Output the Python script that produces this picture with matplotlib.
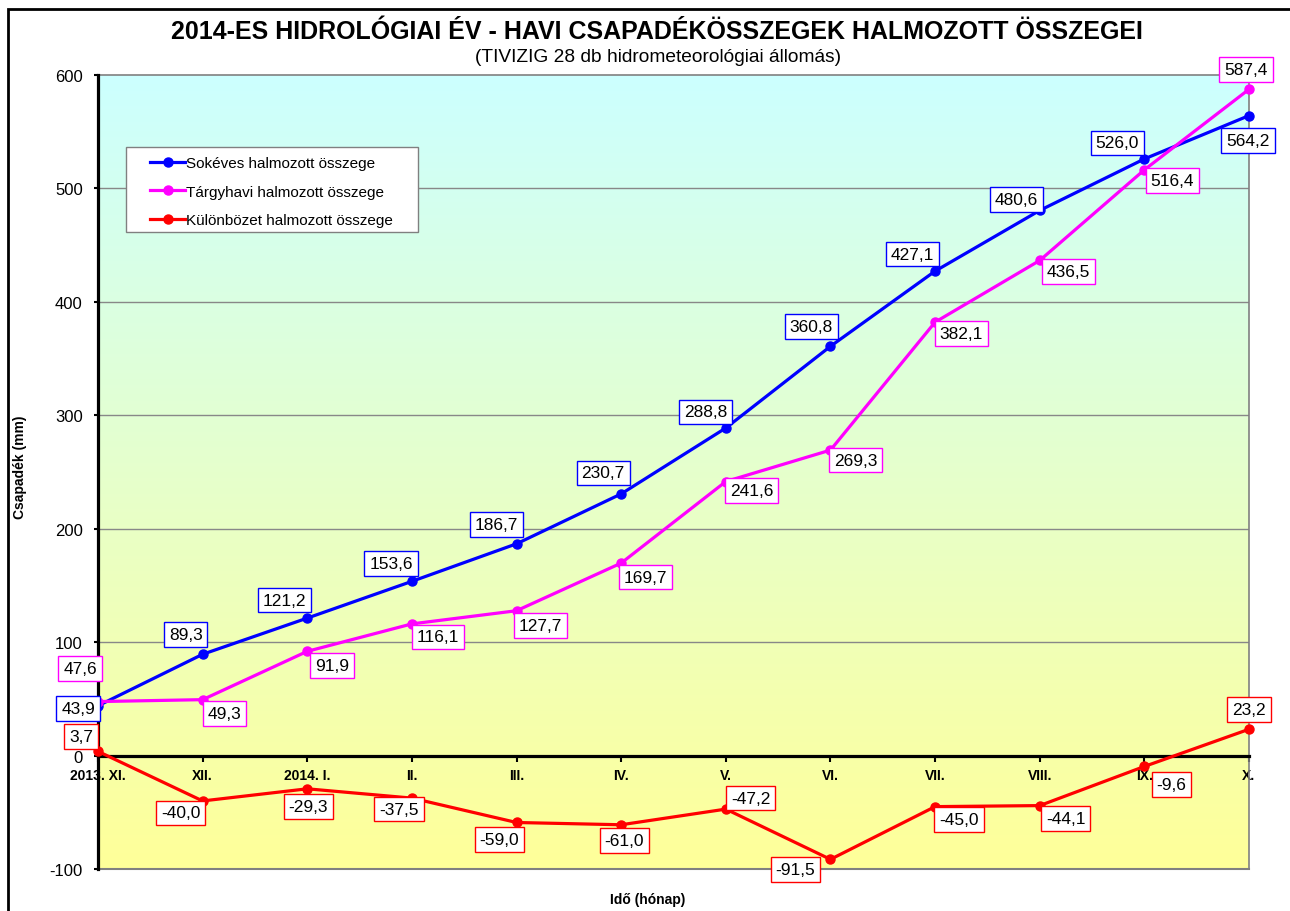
import matplotlib
matplotlib.use("Agg")
import matplotlib.pyplot as plt
import numpy as np
from matplotlib.colors import LinearSegmentedColormap
from matplotlib.patches import Rectangle

plt.rcParams['font.family'] = ['Liberation Sans', 'DejaVu Sans']
plt.rcParams['axes.unicode_minus'] = False

months = ['2013. XI.', 'XII.', '2014. I.', 'II.', 'III.', 'IV.', 'V.', 'VI.',
          'VII.', 'VIII.', 'IX.', 'X.']
sokeves = [43.9, 89.3, 121.2, 153.6, 186.7, 230.7, 288.8, 360.8, 427.1, 480.6, 526.0, 564.2]
targyhavi = [47.6, 49.3, 91.9, 116.1, 127.7, 169.7, 241.6, 269.3, 382.1, 436.5, 516.4, 587.4]
kulonbozet = [3.7, -40.0, -29.3, -37.5, -59.0, -61.0, -47.2, -91.5, -45.0, -44.1, -9.6, 23.2]

# label offsets in pixels (dx, dy downwards)
off_blue = [(-20, 3), (-17, -20), (-23, -18), (-21, -18), (-20, -19), (-18, -21),
            (-20, -16), (-19, -20), (-23, -17), (-23, -11), (-27, -16), (-1, 25)]
off_mag = [(-18, -33), (22, 14), (25, 14), (26, 13), (24, 15), (24, 14),
           (26, 9), (25, 10), (26, 11), (29, 11), (28, 11), (-3, -20)]
off_red = [(-17, -15), (-22, 12), (1, 18), (-13, 11), (-17, 17), (3, 16),
           (25, -11), (-35, 10), (24, 13), (26, 13), (27, 18), (0, -20)]

W, H = 1290, 912
fig = plt.figure(figsize=(W / 100, H / 100), dpi=100)
fig.patches.append(Rectangle((8 / W, -0.1), 1.2, 1 - 10 / H + 0.1, transform=fig.transFigure,
                             fill=False, ec='black', lw=2))

ax = fig.add_axes([98 / W, (H - 870) / H, 1151 / W, 794 / H])
x = np.arange(len(months))

# gradient background
cmap = LinearSegmentedColormap.from_list('bg', ['#FFFF99', '#CCFFFF'])
grad = np.linspace(0, 1, 256).reshape(-1, 1)
ax.imshow(grad, extent=[0, 11, -100, 600], origin='lower', aspect='auto', cmap=cmap, zorder=0)

ax.set_xlim(0, 11)
ax.set_ylim(-100, 600)
for yv in range(100, 600, 100):
    ax.axhline(yv, color='#888888', lw=1, zorder=1)

series = [
    (sokeves, '#0000FF', 'Sokéves halmozott összege', off_blue),
    (targyhavi, '#FF00FF', 'Tárgyhavi halmozott összege', off_mag),
    (kulonbozet, '#FF0000', 'Különbözet halmozott összege', off_red),
]
for vals, col, lab, offs in series:
    ax.plot(x, vals, color=col, lw=2.3, marker='o', ms=6.5, label=lab, clip_on=False, zorder=4)
    for xi, v, (dx, dy) in zip(x, vals, offs):
        ax.annotate(f"{v:.1f}".replace('.', ','), (xi, v), xytext=(dx, -dy),
                    textcoords='offset pixels', ha='center', va='center', fontsize=12.5,
                    bbox=dict(boxstyle='square,pad=0.28', fc='white', ec=col, lw=1),
                    zorder=5, annotation_clip=False)

# spines
ax.spines['bottom'].set_position(('data', 0))
ax.spines['bottom'].set_linewidth(2.3)
ax.spines['left'].set_linewidth(2.3)
ax.spines['left'].set_zorder(3)
ax.spines['top'].set_color('#808080')
ax.spines['right'].set_color('#808080')
ax.spines['top'].set_linewidth(1.2)
ax.spines['right'].set_linewidth(1.2)
ax.plot([0, 11], [-100, -100], color='#808080', lw=1.5, clip_on=False, zorder=3)

ax.set_xticks(x)
ax.set_xticklabels(months, fontsize=10, fontweight='bold')
ax.set_yticks(range(-100, 601, 100))
ax.tick_params(axis='y', direction='out', length=3, width=1.5, labelsize=12, pad=8)
ax.tick_params(axis='x', direction='out', length=4, width=1.5, pad=5)

# legend
fig.patches.append(Rectangle((126 / W, 1 - 233 / H), 292 / W, 85 / H, transform=fig.transFigure,
                             fc='white', ec='#808080', lw=1, zorder=6))
leg = fig.legend(loc='upper left', bbox_to_anchor=(144 / W, 1 - 151 / H), frameon=False,
                 fontsize=11, handlelength=2.3, handletextpad=0.05, labelspacing=0.95,
                 borderaxespad=0)
leg.set_zorder(7)

fig.text(657 / W, 1 - 32 / H, '2014-ES HIDROLÓGIAI ÉV - HAVI CSAPADÉKÖSSZEGEK HALMOZOTT ÖSSZEGEI',
         ha='center', va='center', fontsize=18, fontweight='bold')
fig.text(658 / W, 1 - 58 / H, '(TIVIZIG 28 db hidrometeorológiai állomás)',
         ha='center', va='center', fontsize=13.75)
fig.text(20 / W, 1 - 467 / H, 'Csapadék (mm)', rotation=90, ha='center', va='center',
         fontsize=10, fontweight='bold')
fig.text(648 / W, 1 - 900 / H, 'Idő (hónap)', ha='center', va='center',
         fontsize=10, fontweight='bold')

fig.savefig('out.png', dpi=100)
